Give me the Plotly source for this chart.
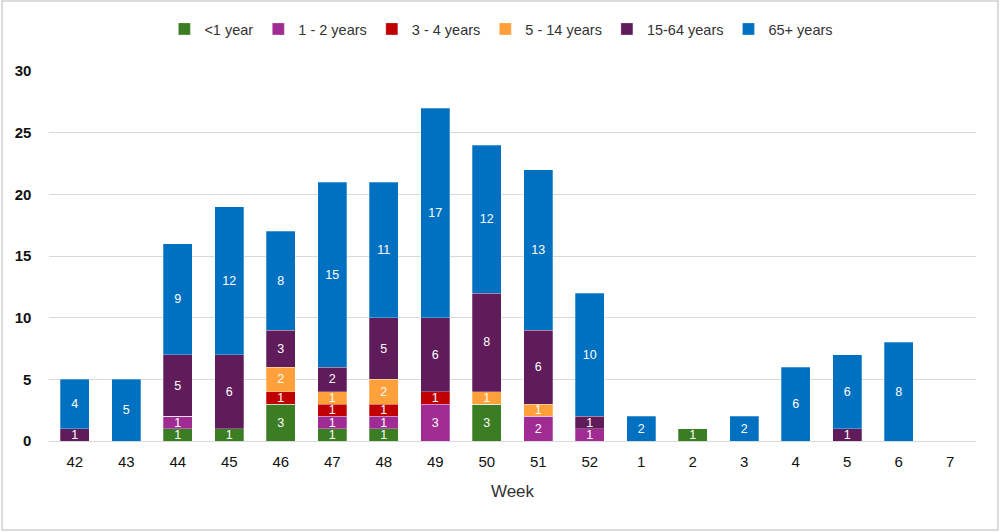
import plotly.graph_objects as go

weeks = ["42", "43", "44", "45", "46", "47", "48", "49", "50", "51", "52", "1", "2", "3", "4", "5", "6", "7"]
lt1 = [0, 0, 1, 1, 3, 1, 1, 0, 3, 0, 0, 0, 1, 0, 0, 0, 0, 0]
y1_2 = [0, 0, 1, 0, 0, 1, 1, 3, 0, 2, 1, 0, 0, 0, 0, 0, 0, 0]
y3_4 = [0, 0, 0, 0, 1, 1, 1, 1, 0, 0, 0, 0, 0, 0, 0, 0, 0, 0]
y5_14 = [0, 0, 0, 0, 2, 1, 2, 0, 1, 1, 0, 0, 0, 0, 0, 0, 0, 0]
y15_64 = [1, 0, 5, 6, 3, 2, 5, 6, 8, 6, 1, 0, 0, 0, 0, 1, 0, 0]
y65 = [4, 5, 9, 12, 8, 15, 11, 17, 12, 13, 10, 2, 0, 2, 6, 6, 8, 0]

series = [
    ("<1 year", lt1, "#3b7d23"),
    ("1 - 2 years", y1_2, "#a02b93"),
    ("3 - 4 years", y3_4, "#c00000"),
    ("5 - 14 years", y5_14, "#ffa03a"),
    ("15-64 years", y15_64, "#5f1b5a"),
    ("65+ years", y65, "#0070c0"),
]

FONT = "Liberation Sans"
L, R, T, B = 49, 24, 71, 91
PW, PH = 1000 - L - R, 532 - T - B

fig = go.Figure()
for name, vals, col in series:
    fig.add_trace(go.Bar(
        x=weeks, y=vals, name=name,
        marker=dict(color=col, line=dict(color="rgba(255,255,255,0.45)", width=0.6)),
        text=[str(v) if v else "" for v in vals],
        textposition="inside", insidetextanchor="middle", textangle=0,
        constraintext="none",
        textfont=dict(color="white", size=12.5, family=FONT),
        cliponaxis=False,
    ))

fig.update_layout(
    barmode="stack",
    bargap=0.44,
    width=1000, height=532,
    margin=dict(l=L, r=R, t=T, b=B, autoexpand=False),
    paper_bgcolor="white", plot_bgcolor="white",
    font=dict(family=FONT, color="#222222"),
    legend=dict(orientation="h", x=0.488, xanchor="center", y=1 + 42 / PH, yanchor="middle",
                font=dict(size=14.5, color="#333333"), traceorder="normal", itemwidth=30),
    xaxis=dict(type="category", showgrid=False, showline=False, ticks="", automargin=False,
               tickfont=dict(size=15, color="#111111"), ticklabelstandoff=10,
               title=dict(text="Week", font=dict(size=17, color="#333333"), standoff=16)),
    yaxis=dict(range=[0, 30], dtick=5, showgrid=True, gridcolor="#d9d9d9", gridwidth=1,
               zeroline=True, zerolinecolor="#d9d9d9", zerolinewidth=1, automargin=False,
               tickfont=dict(size=15, color="#111111", weight="bold"), ticksuffix="    "),
    shapes=[dict(type="rect", xref="paper", yref="paper",
                 x0=-(L - 2) / PW, x1=1 + (R - 2) / PW, y0=-(B - 2) / PH, y1=1 + (T - 1) / PH,
                 line=dict(color="#d0d0d0", width=1.5), fillcolor="rgba(0,0,0,0)")],
)

fig.write_html("out.html", config={"displayModeBar": False},
               post_script="document.body.style.margin='0';document.body.style.overflow='hidden';")
